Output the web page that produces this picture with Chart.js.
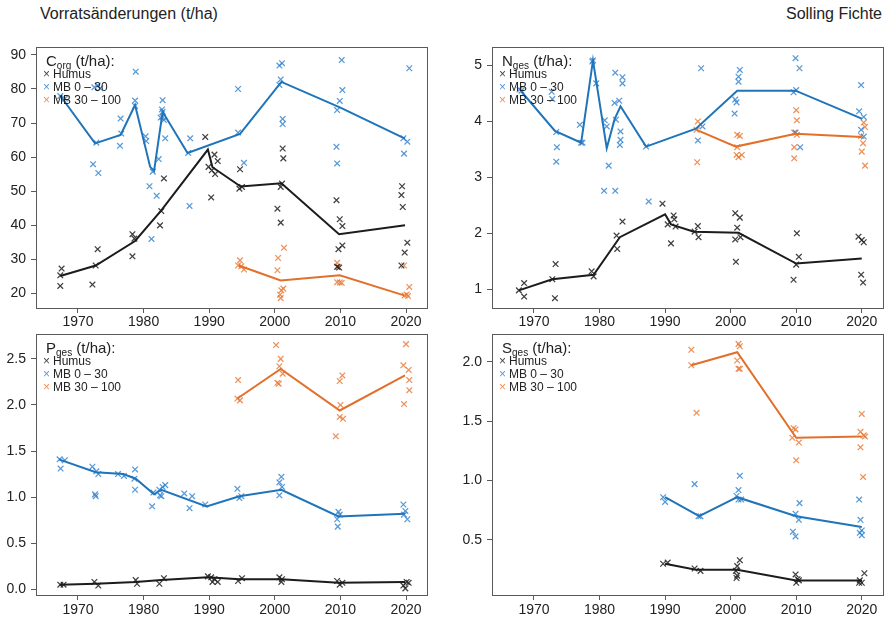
<!DOCTYPE html>
<html lang="de">
<head>
<meta charset="utf-8">
<title>Solling Fichte – Vorratsänderungen</title>
<script src="https://cdn.jsdelivr.net/npm/chart.js@4.4.1/dist/chart.umd.min.js"></script>
<style>
  body { margin: 0; background: #fff; font-family: 'Liberation Sans', Arial, sans-serif; color: #222; }
  #wrap { position: relative; width: 888px; height: 617px; overflow: hidden; }
  .title { position: absolute; top: 5px; font-size: 16px; line-height: 18px; }
  .panel { position: absolute; }
  .panel canvas { position: absolute; left: 0; top: 0; }
  .leg { position: absolute; color: #222; }
  .leg .t { font-size: 15px; height: 13.6px; line-height: 13.6px; white-space: nowrap; padding-left: 3px; }
  .leg .t sub { font-size: 10px; vertical-align: -3px; line-height: 0; }
  .leg .e { font-size: 12px; height: 13.4px; line-height: 13.4px; white-space: nowrap; }
  .leg .e b { display: inline-block; width: 7px; font-weight: normal; font-size: 12px; margin-right: 3px; text-align: center; }
</style>
</head>
<body>
<div id="wrap">
  <div class="title" style="left:40px">Vorratsänderungen (t/ha)</div>
  <div class="title" style="right:6px">Solling Fichte</div>
</div>
<script>
'use strict';
// Vier Panels (C, N, P, S): Einzelwerte als ×, Jahresmittel als Linie.
const yearTicks = [1970, 1980, 1990, 2000, 2010, 2020];

// --- Corg ---
const cTicks = [20, 30, 40, 50, 60, 70, 80, 90];
const cHumusLine = [[1967.3, 25.0], [1972.7, 28.1], [1978.7, 35.3], [1982.7, 44.3], [1989.8, 62.2], [1990.5, 57.0], [1994.8, 51.3], [2001.0, 52.3], [2009.8, 37.3], [2019.85, 39.9]];
const cMb0Line = [[1967.5, 77.5], [1972.6, 64.0], [1976.5, 66.5], [1978.7, 75.3], [1981.0, 57.1], [1981.6, 55.9], [1982.9, 73.3], [1986.7, 61.2], [1994.7, 66.8], [2001.0, 82.1], [2010.0, 74.5], [2019.85, 65.4]];
const cMb30Line = [[1994.5, 28.1], [2000.9, 23.7], [2009.9, 25.2], [2019.7, 19.3]];
const cHumusPts = [[1967.5, 27.2], [1967.3, 25.2], [1967.3, 22.1], [1973.0, 32.9], [1972.7, 28.1], [1972.2, 22.5],
  [1978.3, 37.3], [1978.6, 36.0], [1978.3, 30.8], [1983.1, 53.7], [1982.7, 44.1], [1982.5, 39.9],
  [1989.4, 65.9], [1989.9, 57.1], [1990.3, 48.1], [1990.4, 56.1], [1990.8, 60.7], [1991.3, 58.8], [1990.9, 55.0],
  [1994.7, 56.4], [1994.6, 50.7], [1995.0, 51.2], [2001.2, 62.5], [2001.3, 59.6], [2000.4, 44.8], [2000.9, 40.7], [2001.1, 52.2], [2000.9, 51.2],
  [2009.4, 47.3], [2009.9, 41.7], [2010.3, 39.7], [2009.7, 32.9], [2010.3, 34.0], [2009.5, 27.7], [2009.8, 27.5],
  [2019.4, 51.4], [2019.3, 48.8], [2019.5, 45.3], [2020.2, 34.8], [2019.8, 31.9], [2019.3, 28.1]];
const cMb0Pts = [[1967.3, 77.9], [1968.0, 77.2], [1973.0, 81.0], [1972.5, 80.5], [1973.4, 80.2], [1972.3, 57.9], [1973.1, 55.3], [1972.8, 64.2],
  [1976.5, 71.3], [1976.4, 63.3], [1976.6, 66.9], [1978.8, 85.1], [1978.7, 76.6], [1978.7, 75.0],
  [1980.3, 66.1], [1980.4, 64.7], [1980.9, 51.4], [1981.4, 55.7], [1981.2, 35.9], [1982.0, 48.6], [1982.3, 59.4],
  [1982.9, 76.7], [1982.8, 74.0], [1982.9, 73.3], [1982.6, 71.6], [1983.1, 70.9], [1983.3, 65.5], [1982.9, 71.8],
  [1987.1, 65.5], [1986.8, 61.2], [1987.0, 45.6], [1994.4, 80.0], [1994.4, 67.2], [1995.3, 58.3],
  [2000.7, 86.9], [2001.1, 87.6], [2000.9, 82.8], [2000.7, 81.2], [2001.2, 71.2], [2001.2, 69.7],
  [2010.2, 88.5], [2010.3, 79.7], [2009.9, 76.5], [2009.5, 73.8], [2009.4, 63.0], [2009.5, 58.1],
  [2020.5, 86.1], [2019.6, 65.5], [2020.2, 64.5], [2019.7, 61.0]];
const cMb30Pts = [[1994.7, 29.6], [1994.4, 28.1], [1995.3, 26.9], [1994.9, 27.9],
  [2000.5, 30.3], [2001.4, 33.3], [2000.4, 26.7], [2001.0, 20.8], [2000.9, 18.5], [2001.3, 21.3], [2000.8, 19.5],
  [2009.5, 28.9], [2009.6, 27.7], [2009.5, 23.2], [2010.2, 23.0], [2009.9, 23.1],
  [2019.7, 28.1], [2020.5, 21.8], [2019.8, 19.3], [2020.3, 19.1], [2020.1, 19.6]];

// --- Nges ---
const nTicks = [1, 2, 3, 4, 5];
const nHumusLine = [[1967.7, 0.98], [1972.8, 1.18], [1979.1, 1.26], [1983.1, 1.93], [1990.0, 2.34], [1990.9, 2.16], [1994.4, 2.03], [2001.2, 2.01], [2010.0, 1.46], [2020.0, 1.55]];
const nMb0Line = [[1968.1, 4.53], [1973.2, 3.83], [1977.2, 3.62], [1979.0, 5.09], [1981.1, 3.52], [1982.3, 4.04], [1983.2, 4.27], [1987.1, 3.55], [1994.7, 3.87], [2001.0, 4.55], [2009.9, 4.55], [2020.0, 4.05]];
const nMb30Line = [[1994.8, 3.85], [2000.8, 3.55], [2009.9, 3.78], [2020.0, 3.72]];
const nHumusPts = [[1967.7, 0.98], [1968.5, 1.11], [1968.5, 0.87], [1973.3, 1.45], [1972.8, 1.18], [1973.2, 0.84],
  [1978.8, 1.32], [1979.1, 1.23], [1982.6, 1.96], [1982.7, 1.72], [1983.5, 2.21],
  [1989.6, 2.53], [1990.4, 2.16], [1990.9, 1.82], [1991.3, 2.32], [1991.4, 2.25], [1991.6, 2.12],
  [1995.0, 2.13], [1994.5, 2.03], [1995.1, 1.93], [2000.7, 2.36], [2001.4, 2.28], [2001.0, 2.10], [2000.7, 1.89], [2001.5, 1.93], [2000.8, 1.49],
  [2010.1, 2.00], [2010.4, 1.58], [2010.0, 1.44], [2009.6, 1.17], [2019.5, 1.94], [2020.0, 1.88], [2020.3, 1.84], [2019.9, 1.26], [2020.2, 1.12]];
const nMb0Pts = [[1968.1, 4.55], [1967.8, 4.57], [1972.7, 4.53], [1972.8, 4.40], [1973.4, 3.81], [1973.5, 3.54], [1973.4, 3.28],
  [1977.0, 3.94], [1977.2, 3.62], [1977.4, 3.62], [1978.9, 5.07], [1979.0, 5.09], [1979.5, 4.68],
  [1980.8, 4.02], [1980.7, 2.76], [1981.1, 3.91], [1981.4, 3.21], [1982.4, 4.87], [1982.3, 4.33], [1982.5, 4.03], [1982.4, 2.76],
  [1983.0, 4.37], [1983.5, 4.79], [1983.5, 4.68], [1983.2, 3.82], [1983.2, 3.67], [1983.1, 3.58], [1987.1, 3.55], [1987.5, 2.57],
  [1995.5, 4.95], [1995.0, 3.66], [1995.7, 3.91], [2000.7, 4.39], [2000.9, 4.34], [2000.6, 4.14], [2001.4, 4.92], [2001.2, 4.80], [2001.2, 4.71],
  [2009.9, 5.13], [2010.5, 4.95], [2009.6, 4.52], [2010.0, 4.56], [2009.9, 3.80], [2010.6, 3.54],
  [2019.9, 4.65], [2019.6, 4.18], [2019.9, 3.85], [2020.3, 4.08], [2020.3, 3.73]];
const nMb30Pts = [[1995.0, 4.00], [1994.8, 3.85], [1994.9, 3.27], [2001.0, 3.76], [2001.4, 3.74], [2001.0, 3.54], [2000.9, 3.40], [2001.2, 3.36], [2001.7, 3.40],
  [2010.0, 4.20], [2010.1, 4.02], [2009.7, 3.80], [2010.1, 3.76], [2009.7, 3.54], [2009.7, 3.34],
  [2020.3, 3.98], [2020.5, 3.90], [2020.2, 3.61], [2020.0, 3.46], [2020.5, 3.21], [2019.9, 3.74]];

// --- Pges ---
const pTicks = [0, 0.5, 1, 1.5, 2, 2.5];
const pHumusLine = [[1967.2, 0.05], [1972.7, 0.06], [1978.8, 0.08], [1982.7, 0.10], [1989.8, 0.13], [1994.6, 0.11], [2001.0, 0.11], [2009.7, 0.07], [2019.85, 0.08]];
const pMb0Line = [[1967.1, 1.41], [1972.7, 1.27], [1976.9, 1.25], [1978.8, 1.20], [1981.6, 1.03], [1982.7, 1.08], [1989.6, 0.90], [1994.6, 1.01], [2001.0, 1.08], [2009.7, 0.79], [2019.85, 0.82]];
const pMb30Line = [[1994.3, 2.07], [2000.9, 2.39], [2009.9, 1.94], [2019.85, 2.32]];
const pHumusPts = [[1967.3, 0.05], [1967.8, 0.05], [1972.5, 0.08], [1973.1, 0.04], [1978.8, 0.10], [1979.0, 0.06], [1982.4, 0.06], [1983.1, 0.12],
  [1989.8, 0.14], [1990.3, 0.13], [1990.5, 0.08], [1990.8, 0.11], [1991.3, 0.08], [1994.4, 0.09], [1995.0, 0.12],
  [2000.7, 0.13], [2001.1, 0.11], [2001.0, 0.08], [2009.5, 0.09], [2009.9, 0.05], [2010.3, 0.07],
  [2019.6, 0.04], [2020.1, 0.08], [2020.4, 0.07], [2019.9, 0.01]];
const pMb0Pts = [[1967.2, 1.41], [1967.35, 1.31], [1968.0, 1.40], [1972.2, 1.33], [1972.8, 1.28], [1973.1, 1.25], [1972.6, 1.03], [1972.7, 1.01],
  [1976.1, 1.25], [1977.0, 1.23], [1978.7, 1.30], [1978.6, 1.20], [1978.7, 1.08], [1981.3, 0.90], [1981.5, 1.05],
  [1982.5, 1.02], [1982.9, 1.11], [1983.3, 1.13], [1982.4, 1.08], [1982.7, 1.01], [1986.2, 1.04], [1987.0, 0.88], [1987.4, 1.01], [1989.4, 0.92],
  [1994.3, 1.09], [1994.6, 0.99], [1994.9, 1.01], [2000.7, 1.16], [2001.0, 1.22], [2000.7, 1.02], [2001.1, 1.11],
  [2009.7, 0.84], [2009.5, 0.76], [2009.6, 0.68], [2009.9, 0.81], [2019.6, 0.92], [2019.9, 0.85], [2020.2, 0.76], [2019.7, 0.81]];
const pMb30Pts = [[1994.4, 2.27], [1994.3, 2.07], [1994.7, 2.05], [2000.2, 2.65], [2000.9, 2.50], [2000.7, 2.42], [2001.2, 2.34], [2000.4, 2.24], [2000.6, 2.23],
  [2009.9, 2.26], [2010.3, 2.32], [2010.0, 2.00], [2009.9, 1.87], [2010.4, 1.85], [2009.3, 1.66],
  [2020.0, 2.66], [2019.6, 2.43], [2020.4, 2.38], [2020.5, 2.27], [2020.5, 2.16], [2019.7, 2.01]];

// --- Sges ---
const sTicks = [0.5, 1, 1.5, 2];
const sHumusLine = [[1990.0, 0.30], [1994.7, 0.25], [2001.0, 0.25], [2010.0, 0.16], [2020.0, 0.16]];
const sMb0Line = [[1990.0, 0.86], [1995.2, 0.70], [2001.0, 0.86], [2010.0, 0.70], [2020.0, 0.61]];
const sMb30Line = [[1994.0, 1.97], [2001.0, 2.08], [2010.0, 1.36], [2020.0, 1.37]];
const sHumusPts = [[1989.7, 0.30], [1990.4, 0.31], [1994.5, 0.26], [1995.4, 0.24], [2000.8, 0.24], [2001.0, 0.20], [2001.4, 0.33], [2001.0, 0.28], [2000.9, 0.18],
  [2009.9, 0.21], [2010.2, 0.17], [2010.0, 0.14], [2010.4, 0.16], [2019.7, 0.16], [2020.0, 0.14], [2020.4, 0.22], [2019.6, 0.14]];
const sMb0Pts = [[1989.7, 0.86], [1990.0, 0.82], [1994.5, 0.97], [1995.1, 0.70], [1995.4, 0.70], [2001.2, 0.92], [2001.4, 1.04], [2000.9, 0.87], [2001.2, 0.84], [2001.6, 0.84],
  [2009.5, 0.57], [2009.9, 0.53], [2009.9, 0.72], [2010.4, 0.67], [2010.5, 0.81], [2019.6, 0.84], [2019.8, 0.67], [2020.0, 0.58], [2020.0, 0.54], [2019.7, 0.56]];
const sMb30Pts = [[1994.0, 2.10], [1994.0, 1.97], [1994.8, 1.57], [2001.2, 2.15], [2001.4, 2.13], [2001.0, 2.01], [2001.2, 1.94], [2001.4, 1.94],
  [2009.6, 1.44], [2009.9, 1.43], [2009.4, 1.36], [2010.4, 1.32], [2010.0, 1.17],
  [2020.0, 1.56], [2019.8, 1.41], [2020.3, 1.38], [2020.5, 1.37], [2019.8, 1.28], [2020.2, 1.03]];

// Reihen: Name, Linienfarbe, Kreuzfarbe
const SERIES = [
  { name: 'Humus', line: '#1c1c1c', pt: 'rgba(30,30,30,.85)' },
  { name: 'MB 0 – 30', line: '#1f74ba', pt: 'rgba(45,128,205,.8)' },
  { name: 'MB 30 – 100', line: '#e2702b', pt: 'rgba(232,118,48,.8)' },
];
const FONT = "'Liberation Sans', Arial, sans-serif";

// Canvas reicht nach oben über die Nachbarn hinaus, damit die Skala oben genug Platz bekommt.
const PANELS = [
  { id: 'pc', label: 'C', sub: 'org', left: 0, top: 20, w: 444, h: 312, padTop: 27, padRight: 17, yw: 36, xh: 24, xpad: 1, ymin: 15.6, ymax: 92.35, yTicks: cTicks, dec: 0,
    lines: [cHumusLine, cMb0Line, cMb30Line], pts: [cHumusPts, cMb0Pts, cMb30Pts] },
  { id: 'pn', label: 'N', sub: 'ges', left: 444, top: 20, w: 444, h: 312, padTop: 27, padRight: 5, yw: 48, xh: 24, xpad: 1, ymin: 0.665, ymax: 5.33, yTicks: nTicks, dec: 0,
    lines: [nHumusLine, nMb0Line, nMb30Line], pts: [nHumusPts, nMb0Pts, nMb30Pts] },
  { id: 'pp', label: 'P', sub: 'ges', left: 0, top: 310, w: 444, h: 307, padTop: 24, padRight: 17, yw: 36, xh: 22, xpad: 2, ymin: -0.062, ymax: 2.77, yTicks: pTicks, dec: 1,
    lines: [pHumusLine, pMb0Line, pMb30Line], pts: [pHumusPts, pMb0Pts, pMb30Pts] },
  { id: 'ps', label: 'S', sub: 'ges', left: 444, top: 310, w: 444, h: 307, padTop: 24, padRight: 5, yw: 48, xh: 22, xpad: 2, ymin: 0.037, ymax: 2.233, yTicks: sTicks, dec: 1,
    lines: [sHumusLine, sMb0Line, sMb30Line], pts: [sHumusPts, sMb0Pts, sMb30Pts] },
];

const xy = arr => arr.map(([x, y]) => ({ x, y }));

// Rahmen um die Zeichenfläche (R-Stil)
const boxPlugin = {
  id: 'box',
  afterDraw(c) {
    const a = c.chartArea, g = c.ctx;
    g.save(); g.strokeStyle = '#5a5a5a'; g.lineWidth = 1;
    g.strokeRect(Math.round(a.left) + .5, Math.round(a.top) + .5, Math.round(a.right - a.left), Math.round(a.bottom - a.top));
    g.restore();
  },
};

function axis(extra) {
  return Object.assign({
    type: 'linear',
    grid: { drawOnChartArea: false, drawTicks: true, tickLength: 5, color: '#5a5a5a', lineWidth: 1 },
    border: { display: false },
  }, extra);
}

function buildPanel(p) {
  const wrap = document.getElementById('wrap');
  const div = document.createElement('div');
  div.className = 'panel';
  Object.assign(div.style, { left: p.left + 'px', top: p.top + 'px', width: p.w + 'px', height: p.h + 'px' });
  const cv = document.createElement('canvas');
  cv.id = p.id; cv.width = p.w; cv.height = p.h;
  div.appendChild(cv);

  // Legende oben links in der Zeichenfläche
  const leg = document.createElement('div');
  leg.className = 'leg';
  Object.assign(leg.style, { left: (p.yw + 7) + 'px', top: (p.padTop + 7) + 'px' });
  leg.innerHTML = `<div class="t">${p.label}<sub>${p.sub}</sub> (t/ha):</div>` +
    SERIES.map(s => `<div class="e"><b style="color:${s.pt}">×</b>${s.name}</div>`).join('');
  div.appendChild(leg);
  wrap.appendChild(div);

  const datasets = [];
  SERIES.forEach((s, i) => {
    datasets.push({ label: s.name, data: xy(p.lines[i]), showLine: true, borderColor: s.line, backgroundColor: s.line, borderWidth: 2, pointRadius: 0, order: 0 });
    datasets.push({ label: s.name + ' (Einzelwerte)', data: xy(p.pts[i]), showLine: false, pointStyle: 'crossRot', pointRadius: 4, borderWidth: 1.25, borderColor: s.pt, backgroundColor: 'transparent', order: 1 });
  });

  new Chart(cv.getContext('2d'), {
    type: 'scatter',
    data: { datasets },
    options: {
      responsive: false, animation: false, devicePixelRatio: 1,
      layout: { padding: { top: p.padTop, right: p.padRight, left: 0, bottom: 0 } },
      plugins: { legend: { display: false }, tooltip: { enabled: false } },
      scales: {
        x: axis({
          min: 1963.6, max: 2023.2,
          afterBuildTicks: a => { a.ticks = yearTicks.map(v => ({ value: v })); },
          afterFit: a => { a.height = p.xh; },
          ticks: { color: '#222', font: { family: FONT, size: 14 }, padding: p.xpad, maxRotation: 0, autoSkip: false, callback: v => String(v) },
        }),
        y: axis({
          min: p.ymin, max: p.ymax,
          afterBuildTicks: a => { a.ticks = p.yTicks.map(v => ({ value: v })); },
          afterFit: a => { a.width = p.yw; },
          ticks: { color: '#222', font: { family: FONT, size: 14 }, padding: 5, autoSkip: false, callback: v => v.toFixed(p.dec) },
        }),
      },
    },
    plugins: [boxPlugin],
  });
}

PANELS.forEach(buildPanel);
</script>
</body>
</html>
